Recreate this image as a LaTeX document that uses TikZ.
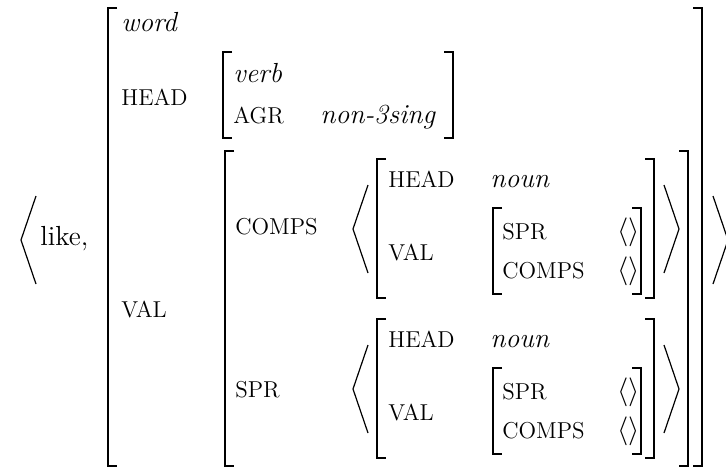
\documentclass[tikz,border=0pt]{standalone}
\usepackage{tikz}
\usepackage{amsmath}

% 角括弧の組: 左x, 右x, 上y, 下y
\newcommand{\sqbrackets}[4]{%
  \draw[brk] (#1+\tick,#3) -- (#1,#3) -- (#1,#4) -- (#1+\tick,#4);
  \draw[brk] (#2-\tick,#3) -- (#2,#3) -- (#2,#4) -- (#2-\tick,#4);}
% 山括弧の組: 左の先端x, 右の先端x, 上y, 下y
\newcommand{\listangles}[4]{%
  \draw[ang] (#1+15,#3) -- (#1,{(#3+#4)/2}) -- (#1+15,#4);
  \draw[ang] (#2-15,#3) -- (#2,{(#3+#4)/2}) -- (#2-15,#4);}

\begin{document}
\begin{tikzpicture}[
    x=0.5pt, y=-0.5pt,
    txt/.style={anchor=base west, inner sep=0pt, font=\fontsize{13.8}{16.5}\selectfont},
    feat/.style={txt, font=\fontsize{11.5}{14}\selectfont},
    val/.style={txt, font=\fontsize{13.8}{16.5}\selectfont\itshape},
    brk/.style={line width=0.8pt},
    ang/.style={line width=0.6pt}
]
    % 括弧の端の長さ
    \def\tick{9}
    \useasboundingbox (0,0) rectangle (726,468);

    % 全体の山括弧と見出し語
    \listangles{21}{728}{196}{284}
    \node[txt] (like) at (40,245) {like,};

    % 外側の行列
    \sqbrackets{108}{702}{8}{466}
    \node[val] (type) at (121,31) {word};
    \node[feat] (head) at (121,105) {HEAD};
    \node[feat] (val) at (121,317) {VAL};

    % HEAD の値
    \sqbrackets{223}{453}{52}{138}
    \node[val] (verb) at (233,82) {verb};
    \node[feat] (agr) at (233,123) {AGR};
    \node[val] (agrval) at (320,123) {non-3sing};

    % VAL の値
    \sqbrackets{225}{688}{151}{466}
    \node[feat] (comps) at (235,234) {COMPS};
    \node[feat] (spr) at (235,397) {SPR};

    % COMPS のリスト
    \listangles{353}{679}{185}{273}
    \sqbrackets{377}{654}{159}{298}
    \node[feat] (chead) at (388,187) {HEAD};
    \node[val] (cnoun) at (490,187) {noun};
    \node[feat] (cval) at (388,260) {VAL};
    \sqbrackets{493}{641}{208}{294}
    \node[feat] (cspr) at (502,239) {SPR};
    \node[txt] (csprval) at (617,239) {$\langle\rangle$};
    \node[feat] (ccomps) at (502,278) {COMPS};
    \node[txt] (ccompsval) at (617,278) {$\langle\rangle$};

    % SPR のリスト
    \listangles{353}{679}{345}{433}
    \sqbrackets{377}{654}{319}{458}
    \node[feat] (shead) at (388,347) {HEAD};
    \node[val] (snoun) at (490,347) {noun};
    \node[feat] (sval) at (388,420) {VAL};
    \sqbrackets{493}{641}{368}{454}
    \node[feat] (sspr) at (502,399) {SPR};
    \node[txt] (ssprval) at (617,399) {$\langle\rangle$};
    \node[feat] (scomps) at (502,438) {COMPS};
    \node[txt] (scompsval) at (617,438) {$\langle\rangle$};

\end{tikzpicture}
\end{document}
